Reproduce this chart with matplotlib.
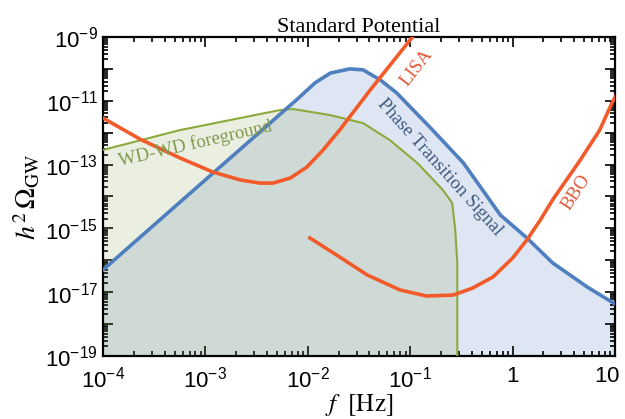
import numpy as np
import matplotlib
matplotlib.use('Agg')
import matplotlib.pyplot as plt
from matplotlib.ticker import LogLocator, FuncFormatter, NullFormatter
from matplotlib.transforms import ScaledTranslation

plt.rcParams['mathtext.fontset'] = 'custom'
plt.rcParams['mathtext.rm'] = 'Liberation Sans'
plt.rcParams['mathtext.it'] = 'Liberation Sans:italic'

# data (log10 f, log10 h^2 Omega)
pt_logf = [-4.0, -3.15, -2.11, -1.93, -1.78, -1.59, -1.46, -1.29, -1.13, -0.81, -0.48, -0.12, 0.14, 0.39, 0.73, 1.0]
pt_logo = [-16.30, -13.90, -10.97, -10.44, -10.13, -10.00, -10.03, -10.35, -10.76, -11.82, -12.95, -14.58, -15.30, -16.08, -16.84, -17.37]

wd_logf = [-4.0, -3.25, -2.27, -2.14, -1.78, -1.46, -1.20, -0.93, -0.68, -0.59, -0.56, -0.54, -0.54]
wd_logo = [-12.54, -11.92, -11.29, -11.26, -11.45, -11.70, -12.23, -12.95, -13.80, -14.20, -15.05, -16.08, -19.1]

lisa_logf = [-4.0, -3.64, -3.25, -2.93, -2.66, -2.47, -2.34, -2.17, -2.01, -1.85, -1.69, -1.39, -1.00, -0.90]
lisa_logo = [-11.54, -12.20, -12.79, -13.23, -13.48, -13.58, -13.58, -13.42, -13.08, -12.54, -11.92, -10.66, -9.09, -8.69]

bbo_logf = [-1.98, -1.75, -1.42, -1.10, -0.84, -0.58, -0.39, -0.19, 0.00, 0.14, 0.27, 0.39, 0.66, 0.85, 0.97, 1.05]
bbo_logo = [-15.30, -15.77, -16.46, -16.93, -17.12, -17.09, -16.87, -16.52, -15.93, -15.36, -14.74, -14.11, -12.86, -11.92, -11.07, -10.60]

x_ticks = [1e-4, 1e-3, 1e-2, 1e-1, 1, 10]
x_labels = ['$10^{-4}$', '$10^{-3}$', '$10^{-2}$', '$10^{-1}$', '$1$', '$10$']

pt_f, pt_o = 10.0 ** np.array(pt_logf), 10.0 ** np.array(pt_logo)
wd_f, wd_o = 10.0 ** np.array(wd_logf), 10.0 ** np.array(wd_logo)
lisa_f, lisa_o = 10.0 ** np.array(lisa_logf), 10.0 ** np.array(lisa_logo)
bbo_f, bbo_o = 10.0 ** np.array(bbo_logf), 10.0 ** np.array(bbo_logo)

fig = plt.figure(figsize=(6.25, 4.19), dpi=100)
ax = fig.add_axes([0.1648, 0.1504, 0.8192, 0.7613])
ax.set_xscale('log')
ax.set_yscale('log')
ax.set_xlim(1e-4, 10)
ax.set_ylim(1e-19, 1e-9)

floor = 1e-20
ax.fill_between(pt_f, pt_o, floor, color='#dde6f2', lw=0, zorder=1)
ax.fill_between(wd_f, wd_o, floor, color='#7f9a3c', alpha=0.15, lw=0, zorder=2)

ax.plot(wd_f, wd_o, color='#8aab3c', lw=1.5, zorder=3)
ax.plot(pt_f, pt_o, color='#4f7fbf', lw=2.6, zorder=4)
ax.plot(lisa_f, lisa_o, color='#f25a2a', lw=2.6, zorder=5)
ax.plot(bbo_f, bbo_o, color='#f25a2a', lw=2.6, zorder=5)

serif = 'Liberation Serif'
ax.text(10 ** -3.10, 10 ** -12.35, 'WD-WD foreground', rotation=13, color='#7f9a4e',
        fontsize=13.5, family=serif, ha='center', va='center', zorder=6)
ax.text(10 ** -0.71, 10 ** -13.08, 'Phase Transition Signal', rotation=-48, color='#3f5a80',
        fontsize=13.5, family=serif, ha='center', va='center', zorder=6)
ax.text(10 ** -0.94, 10 ** -9.97, 'LISA', rotation=52, color='#e0583a',
        fontsize=13.5, family=serif, ha='center', va='center', zorder=6)
ax.text(10 ** 0.62, 10 ** -13.86, 'BBO', rotation=57, color='#e0583a',
        fontsize=13.5, family=serif, ha='center', va='center', zorder=6)

ax.set_xticks(x_ticks)
ax.set_xticklabels(x_labels)
ax.xaxis.set_minor_locator(LogLocator(base=10, subs=np.arange(2, 10), numticks=20))
ax.xaxis.set_minor_formatter(NullFormatter())
ax.yaxis.set_major_locator(LogLocator(base=10, numticks=20))
ax.yaxis.set_major_formatter(FuncFormatter(
    lambda v, p: '$10^{%d}$' % round(np.log10(v)) if round(np.log10(v)) % 2 else ''))
ax.yaxis.set_minor_locator(LogLocator(base=10, subs=np.arange(2, 10), numticks=20))
ax.yaxis.set_minor_formatter(NullFormatter())

ax.tick_params(which='both', direction='in', top=True, right=True, width=1.2, labelsize=16)
ax.tick_params(which='major', length=7)
ax.tick_params(which='minor', length=3.5)
ax.tick_params(axis='x', pad=7)
for s in ax.spines.values():
    s.set_linewidth(1.6)

# nudge the last x label so it stays inside the canvas
last = ax.get_xticklabels()[-1]
last.set_transform(last.get_transform() + ScaledTranslation(-0.08, 0, fig.dpi_scale_trans))

ax.set_title('Standard Potential', family=serif, fontsize=16, pad=2)
yl = ax.set_ylabel(r'$h^2\,\Omega_{\rm GW}$', fontsize=20, labelpad=2)
yl.set_math_fontfamily('stix')
xl = ax.set_xlabel(r'$f\ \ [\mathrm{Hz}]$', fontsize=18, labelpad=0)
xl.set_math_fontfamily('stix')

fig.savefig('out.png', dpi=100)
